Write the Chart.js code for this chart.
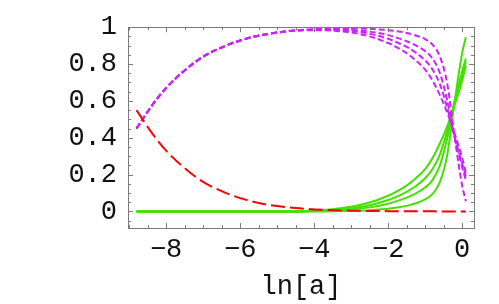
<!DOCTYPE html>
<html>
<head>
<meta charset="utf-8">
<script src="https://cdn.jsdelivr.net/npm/chart.js@4/dist/chart.umd.min.js"></script>
<style>
  html, body { margin: 0; padding: 0; background: #fff; }
  #wrap { width: 499px; height: 304px; }
</style>
</head>
<body>
<div id="wrap"><canvas id="omegaChart" width="499" height="304"></canvas></div>
<script>
// =============================
// Data
// =============================

const lnA = [-8.8, -8.4, -8, -7.5, -7, -6.5, -6, -5.5, -5, -4.5,
             -4, -3.5, -3, -2.5, -2, -1.75, -1.5, -1.25, -1, -0.8, -0.6, -0.4, -0.2, 0, 0.1];

const radiation = [0.55, 0.43, 0.33, 0.235, 0.16, 0.11, 0.072, 0.046, 0.029, 0.018,
                   0.011, 0.007, 0.004, 0.0025, 0.0015, 0.001, 0.0008, 0.0006, 0.0004, 0.0003, 0.0002, 0.0001, 0, 0, 0];

const matter1 = [0.45, 0.57, 0.67, 0.765, 0.84, 0.89, 0.928, 0.954, 0.971, 0.982,
                 0.984, 0.981, 0.971, 0.95, 0.914, 0.889, 0.859, 0.819, 0.77, 0.71, 0.63, 0.535, 0.42, 0.29, 0.21];
const matter2 = [0.45, 0.57, 0.67, 0.765, 0.84, 0.89, 0.928, 0.954, 0.971, 0.982,
                 0.986, 0.985, 0.979, 0.965, 0.937, 0.917, 0.893, 0.861, 0.82, 0.77, 0.69, 0.56, 0.40, 0.26, 0.19];
const matter3 = [0.45, 0.57, 0.67, 0.765, 0.84, 0.89, 0.928, 0.954, 0.971, 0.982,
                 0.987, 0.988, 0.985, 0.976, 0.957, 0.942, 0.924, 0.901, 0.87, 0.83, 0.75, 0.60, 0.40, 0.24, 0.17];
const matter4 = [0.45, 0.57, 0.67, 0.765, 0.84, 0.89, 0.928, 0.954, 0.971, 0.982,
                 0.989, 0.992, 0.993, 0.991, 0.984, 0.978, 0.969, 0.955, 0.935, 0.905, 0.84, 0.69, 0.40, 0.14, 0.055];

const darkEnergy1 = [0, 0, 0, 0, 0, 0, 0, 0, 0, 0,
                     0.005, 0.012, 0.025, 0.048, 0.085, 0.11, 0.14, 0.18, 0.23, 0.29, 0.37, 0.465, 0.58, 0.71, 0.79];
const darkEnergy2 = [0, 0, 0, 0, 0, 0, 0, 0, 0, 0,
                     0.003, 0.008, 0.017, 0.033, 0.062, 0.082, 0.106, 0.138, 0.18, 0.23, 0.31, 0.44, 0.60, 0.74, 0.81];
const darkEnergy3 = [0, 0, 0, 0, 0, 0, 0, 0, 0, 0,
                     0.002, 0.005, 0.011, 0.022, 0.042, 0.057, 0.075, 0.098, 0.13, 0.17, 0.25, 0.40, 0.60, 0.76, 0.83];
const darkEnergy4 = [0, 0, 0, 0, 0, 0, 0, 0, 0, 0,
                     0, 0.001, 0.003, 0.007, 0.015, 0.021, 0.03, 0.044, 0.065, 0.095, 0.16, 0.31, 0.60, 0.86, 0.945];

const xTicks = [-8, -6, -4, -2, 0];
const yTicks = [0, 0.2, 0.4, 0.6, 0.8, 1];


// =============================
// Helpers
// =============================

const FONT = "'Liberation Mono', 'DejaVu Sans Mono', monospace";
const RED = "#ff0000";
const MAGENTA = "#cc22ff";
const GREEN = "#44e000";

function points(ys) {
    return lnA.map((x, i) => ({ x: x, y: ys[i] }));
}

function line(ys, color, dash) {
    return {
        data: points(ys),
        borderColor: color,
        borderWidth: 2,
        borderDash: dash,
        pointRadius: 0,
        showLine: true,
        fill: false,
        cubicInterpolationMode: "monotone"
    };
}

function fmtX(v) {
    return v < 0 ? "\u2212" + Math.abs(v) : String(v);
}


// =============================
// Frame with inward ticks
// =============================

const frameTicks = {
    id: "frameTicks",
    afterDatasetsDraw(chart) {
        const { ctx, chartArea: a, scales: { x, y } } = chart;
        ctx.save();
        ctx.strokeStyle = "#7a7a7a";
        ctx.lineWidth = 1;
        ctx.strokeRect(Math.round(a.left) + 0.5, Math.round(a.top) + 0.5,
            Math.round(a.right - a.left), Math.round(a.bottom - a.top));

        ctx.beginPath();
        for (let k = -18; k <= 0; k++) {
            const v = k * 0.5;
            const px = Math.round(x.getPixelForValue(v)) + 0.5;
            const len = (k % 4 === 0) ? 5 : 3;
            ctx.moveTo(px, a.bottom); ctx.lineTo(px, a.bottom - len);
            ctx.moveTo(px, a.top); ctx.lineTo(px, a.top + len);
        }
        for (let k = -1; k <= 20; k++) {
            const v = k * 0.05;
            const py = Math.round(y.getPixelForValue(v)) + 0.5;
            const len = (k % 4 === 0) ? 5 : 3;
            ctx.moveTo(a.left, py); ctx.lineTo(a.left + len, py);
            ctx.moveTo(a.right, py); ctx.lineTo(a.right - len, py);
        }
        ctx.stroke();
        ctx.restore();
    }
};


// =============================
// Chart
// =============================

new Chart(document.getElementById("omegaChart"), {
    type: "scatter",
    data: {
        datasets: [
            line(radiation, RED, [14, 5]),
            line(matter1, MAGENTA, [6, 3]),
            line(matter2, MAGENTA, [6, 3]),
            line(matter3, MAGENTA, [6, 3]),
            line(matter4, MAGENTA, [6, 3]),
            line(darkEnergy1, GREEN, []),
            line(darkEnergy2, GREEN, []),
            line(darkEnergy3, GREEN, []),
            line(darkEnergy4, GREEN, [])
        ]
    },
    options: {
        responsive: false,
        animation: false,
        layout: { padding: { top: 17, right: 25, left: 0, bottom: 0 } },
        plugins: { legend: { display: false }, tooltip: { enabled: false } },
        scales: {
            x: {
                type: "linear",
                min: -9.03,
                max: 0.32,
                afterBuildTicks: (s) => { s.ticks = xTicks.map(v => ({ value: v })); },
                afterFit: (s) => { s.height = 76; },
                grid: { display: false, drawTicks: false },
                border: { display: false },
                ticks: {
                    color: "#111",
                    font: { family: FONT, size: 27 },
                    padding: 6,
                    maxRotation: 0,
                    autoSkip: false,
                    callback: (v) => fmtX(v)
                },
                title: {
                    display: true,
                    text: "ln[a]",
                    color: "#111",
                    font: { family: FONT, size: 27 },
                    padding: { top: 0, bottom: 1 }
                }
            },
            y: {
                type: "linear",
                min: -0.09,
                max: 1,
                afterBuildTicks: (s) => { s.ticks = yTicks.map(v => ({ value: v })); },
                afterFit: (s) => { s.width = 128; },
                grid: { display: false, drawTicks: false },
                border: { display: false },
                ticks: {
                    color: "#111",
                    font: { family: FONT, size: 27 },
                    padding: 11,
                    autoSkip: false,
                    callback: (v) => String(Math.round(v * 10) / 10)
                }
            }
        }
    },
    plugins: [frameTicks]
});
</script>
</body>
</html>
